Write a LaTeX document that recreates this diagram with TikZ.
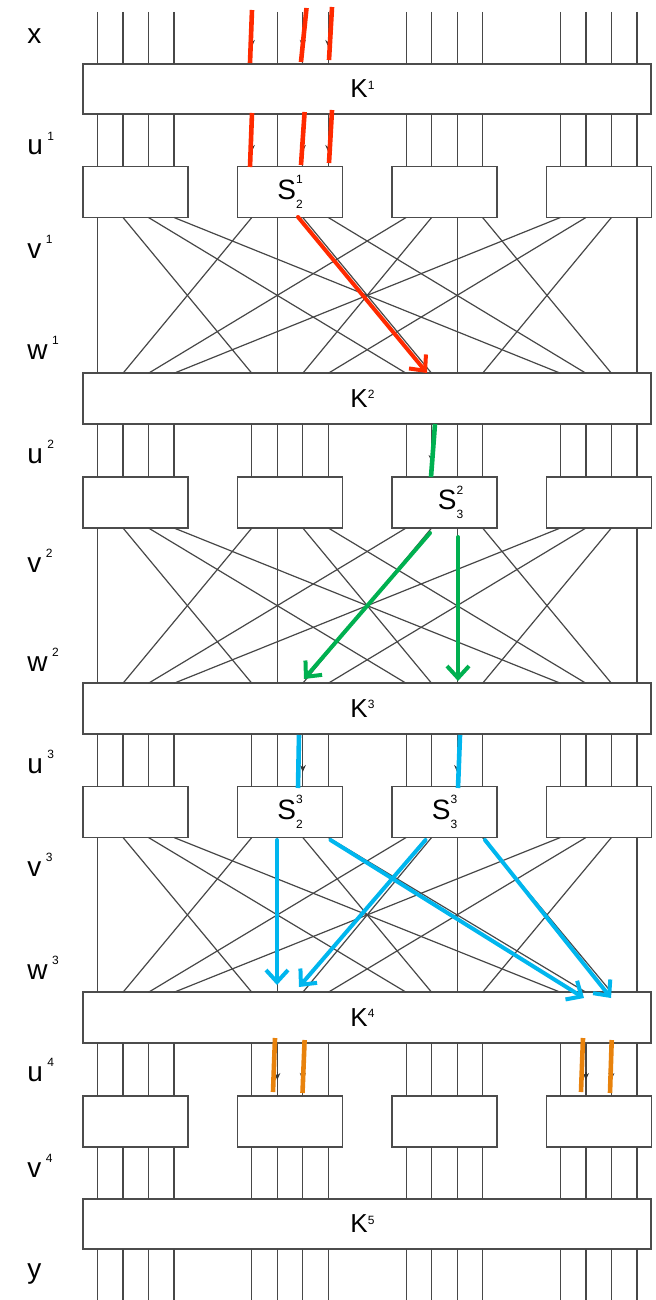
\documentclass[tikz,border=0pt]{standalone}
\usepackage{fontspec}
\setmainfont{Liberation Sans}
\usetikzlibrary{arrows.meta}
\newcommand{\slab}[2]{S\makebox[0pt][l]{\raisebox{1.05ex}{\fontsize{6}{6}\selectfont#1}}\raisebox{-0.6ex}{\fontsize{6}{6}\selectfont#2}}
\newcommand{\rowlab}[2]{#1\hspace{2.2pt}\raisebox{1.0ex}{\fontsize{6}{6}\selectfont#2}}
\definecolor{hred}{HTML}{FF2A00}
\definecolor{hgreen}{HTML}{00B050}
\definecolor{hblue}{HTML}{00B6EE}
\definecolor{horange}{HTML}{E8820C}
\begin{document}
\begin{tikzpicture}[x=0.5pt,y=-0.5pt,
  wire/.style={line width=0.6pt, draw=black!72},
  box/.style={draw=black!70, line width=0.8pt, fill=white, inner sep=0pt, outer sep=0pt},
  kbox/.style={box, minimum width=284pt, minimum height=25.25pt, font=\fontsize{13}{13}\selectfont},
  sbox/.style={box, minimum width=52.5pt, minimum height=25.5pt, font=\fontsize{14}{14}\selectfont},
  lab/.style={anchor=base west, font=\fontsize{14}{14}\selectfont, inner sep=0pt},
  slabel/.style={font=\fontsize{14}{14}\selectfont, inner sep=0pt},
  hl/.style={line width=2.3pt, line cap=butt},
  hla/.style={line width=2pt, line cap=round, -{Straight Barb[length=6pt,width=11pt,line width=2pt]}},
  tip/.style={line width=0.6pt, draw=black!80, -{Stealth[length=3.5pt,width=3pt]}}
]
\useasboundingbox (0,0) rectangle (656,1300);

% wire coordinates
\foreach \g in {0,...,3} \foreach \b in {0,...,3} {
  \pgfmathsetmacro\wx{97.5+154.3*\g+25.5*\b}
  \coordinate (t\g\b) at (\wx,12);
  \coordinate (e\g\b) at (\wx,1300);
}

% K boxes
\foreach \i/\ky in {1/89,2/398.5,3/708.5,4/1017.5,5/1224}
  \node[kbox] (K\i) at (367,\ky) {\hspace{-4pt}K\textsuperscript{\fontsize{6}{6}\selectfont\i}};

% S boxes
\foreach \r/\sy in {1/192,2/502.5,3/812,4/1121.5}
  \foreach \g in {0,...,3}
    \node[sbox] (S\r\g) at ({135.5+154.5*\g},\sy) {};

\node[slabel] (L12) at (S11) {\slab{1}{2}};
\node[slabel] (L23) at ([xshift=3pt]S22) {\slab{2}{3}};
\node[slabel] (L32) at (S31) {\slab{3}{2}};
\node[slabel] (L33) at (S32) {\slab{3}{3}};

% wires
\foreach \g in {0,...,3} \foreach \b in {0,...,3} {
  \draw[wire] (t\g\b) -- (t\g\b |- K1.north);
  \draw[wire] (t\g\b |- K5.south) -- (e\g\b);
  \draw[wire] (t\g\b |- S4\g.south) -- (t\g\b |- K5.north);
  \foreach \r in {1,...,4}
    \draw[wire] (t\g\b |- K\r.south) -- (t\g\b |- S\r\g.north);
  \foreach \r/\n in {1/2,2/3,3/4}
    \draw[wire] (t\g\b |- S\r\g.south) -- (t\b\g |- K\n.north);
}

% row labels
\node[lab] (lx)  at (27,44)   {x};
\node[lab] (lu1) at (27,155)  {\rowlab{u}{1}};
\node[lab] (lv1) at (27,258)  {\rowlab{v}{1}};
\node[lab] (lw1) at (27,359)  {\rowlab{w}{1}};
\node[lab] (lu2) at (27,463)  {\rowlab{u}{2}};
\node[lab] (lv2) at (27,572)  {\rowlab{v}{2}};
\node[lab] (lw2) at (27,671)  {\rowlab{w}{2}};
\node[lab] (lu3) at (27,773)  {\rowlab{u}{3}};
\node[lab] (lv3) at (27,876)  {\rowlab{v}{3}};
\node[lab] (lw3) at (27,979)  {\rowlab{w}{3}};
\node[lab] (lu4) at (27,1081) {\rowlab{u}{4}};
\node[lab] (lv4) at (27,1177) {\rowlab{v}{4}};
\node[lab] (ly)  at (27,1278) {y};

% small black arrow tips on the traced wires
\foreach \w in {t10,t12,t13} {
  \draw[tip] ([yshift=4pt]\w |- 0,47) -- (\w |- 0,47);
  \draw[tip] ([yshift=4pt]\w |- 0,152) -- (\w |- 0,152);
}
\draw[tip] ([yshift=4pt]t21 |- 0,462) -- (t21 |- 0,462);
\foreach \w in {t12,t22} \draw[tip] ([yshift=4pt]\w |- 0,772) -- (\w |- 0,772);
\foreach \w in {t11,t12,t31,t32} \draw[tip] ([yshift=4pt]\w |- 0,1080) -- (\w |- 0,1080);

% highlighted path: red
\coordinate (r1a) at (252,10);   \coordinate (r1b) at (250,63);
\coordinate (r2a) at (306.5,8);  \coordinate (r2b) at (301,62);
\coordinate (r3a) at (332,7);    \coordinate (r3b) at (329,60);
\coordinate (r4a) at (252,113);  \coordinate (r4b) at (250,167);
\coordinate (r5a) at (304.6,112);\coordinate (r5b) at (301,165);
\coordinate (r6a) at (332,110);  \coordinate (r6b) at (329,163);
\coordinate (ra) at (298,217);   \coordinate (rb) at (427,373);
\foreach \p in {r1,r2,r3,r4,r5,r6} \draw[hl, hred] (\p a) -- (\p b);
\draw[hla, hred] (ra) -- (rb);

% green
\coordinate (g0a) at (435,424);  \coordinate (g0b) at (431,477);
\coordinate (g1a) at (430,533);  \coordinate (g1b) at (304,679);
\coordinate (g2a) at (458,537);  \coordinate (g2b) at (458,681);
\draw[hl, hgreen] (g0a) -- (g0b);
\draw[hla, hgreen] (g1a) -- (g1b);
\draw[hla, hgreen] (g2a) -- (g2b);

% blue
\coordinate (b0a) at (299,735);  \coordinate (b0b) at (298,788);
\coordinate (b5a) at (460,735);  \coordinate (b5b) at (458,788);
\coordinate (b1a) at (277,840);  \coordinate (b1b) at (277,985);
\coordinate (b2a) at (425.5,840);\coordinate (b2b) at (299,987);
\coordinate (b3a) at (330.5,840);\coordinate (b3b) at (584,998);
\coordinate (b4a) at (485,840);  \coordinate (b4b) at (611,998);
\draw[hl, hblue] (b0a) -- (b0b);
\draw[hl, hblue] (b5a) -- (b5b);
\foreach \p in {b1,b2,b3,b4} \draw[hla, hblue] (\p a) -- (\p b);

% orange
\coordinate (o1a) at (275,1038);   \coordinate (o1b) at (273,1092);
\coordinate (o2a) at (304.6,1040); \coordinate (o2b) at (302.5,1093);
\coordinate (o3a) at (583,1038);   \coordinate (o3b) at (581,1092);
\coordinate (o4a) at (611.7,1040); \coordinate (o4b) at (610,1093);
\foreach \p in {o1,o2,o3,o4} \draw[hl, horange] (\p a) -- (\p b);
\end{tikzpicture}
\end{document}
